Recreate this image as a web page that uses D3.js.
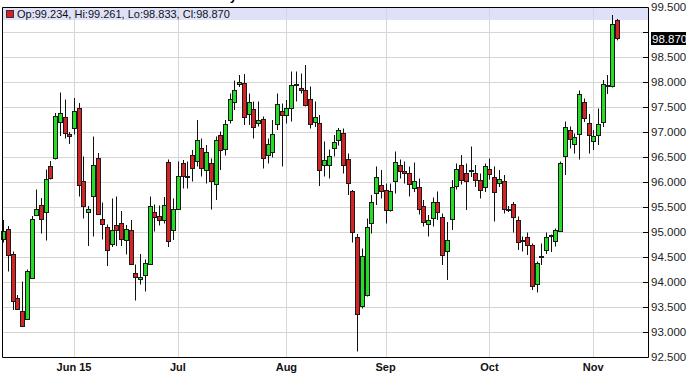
<!DOCTYPE html>
<html>
<head>
<meta charset="utf-8">
<script src="https://cdn.jsdelivr.net/npm/d3@7"></script>
<style>
  body { margin: 0; background: #fff; }
  svg { display: block; font-family: "Liberation Sans", Arial, sans-serif; }
</style>
</head>
<body>
<script>
// daily candles, weekdays from 11 May 2015 to 9 Nov 2015
var startDate = new Date(2015, 4, 11);
var endDate = new Date(2015, 10, 10);

var opens = [94.85,95.07,94.56,93.69,93.42,93.27,94.09,95.35,95.54,95.41,96.31,96.47,97.21,97.30,96.96,97.08,97.49,96.02,95.41,95.72,
  96.48,95.27,95.11,94.77,95.14,95.19,94.85,95.04,94.19,94.05,94.14,94.36,95.41,95.32,95.24,96.39,95.05,95.47,96.37,96.13,
  96.55,96.42,96.69,96.24,96.37,95.97,96.93,96.65,97.23,97.61,97.96,97.99,97.34,97.47,97.17,97.27,96.55,96.61,97.17,97.42,
  97.34,97.47,97.95,97.87,97.84,97.65,97.20,97.19,96.35,96.34,96.67,96.84,96.99,96.45,95.81,94.89,93.52,93.73,95.17,95.77,
  95.93,95.85,95.44,96.01,96.35,96.22,96.19,95.87,95.89,95.52,95.15,95.29,95.61,95.29,94.62,95.25,95.92,96.35,96.17,96.24,
  96.17,96.05,95.89,96.27,96.11,95.99,96.01,95.47,95.57,95.25,94.85,94.91,94.75,93.96,94.52,94.65,94.92,94.82,95.01,96.53,
  97.03,96.77,96.97,97.59,97.17,96.82,96.94,97.19,97.91,97.92,99.234];
var highs = [95.24,95.12,94.61,93.74,94.01,94.25,95.32,95.85,95.68,96.25,96.42,97.38,97.79,97.65,97.00,97.68,97.58,96.51,95.52,96.91,
  96.58,95.59,95.15,95.67,95.71,95.42,95.14,95.24,94.35,94.56,94.45,95.71,95.55,95.53,95.70,96.45,95.67,96.41,96.44,96.41,
  96.64,97.24,96.87,96.74,96.47,96.91,97.01,97.24,97.77,98.03,98.14,98.16,97.77,97.61,97.61,97.31,96.87,97.24,97.77,97.57,
  97.64,98.21,98.21,98.17,98.34,97.91,97.61,97.34,96.81,96.65,96.94,97.08,97.07,96.57,95.84,94.96,94.67,95.27,95.74,96.31,
  96.24,95.97,95.97,96.61,96.45,96.41,96.31,96.39,96.07,95.64,95.34,95.69,95.81,95.37,95.20,96.04,96.37,96.54,96.37,96.71,
  96.34,96.17,96.37,96.47,96.31,96.24,96.14,95.52,95.60,95.31,94.91,94.99,94.77,94.41,94.77,94.99,94.95,95.07,96.41,97.21,
  97.11,96.97,97.83,97.67,97.36,97.04,97.47,98.04,98.14,99.34,99.261];
var lows = [94.79,94.21,93.44,93.44,93.10,93.24,94.07,95.33,94.97,94.83,96.05,96.45,96.92,96.87,96.76,96.95,95.71,95.27,94.72,94.91,
  95.35,94.85,94.32,94.70,94.72,94.72,94.55,94.34,93.63,93.95,93.81,94.35,95.01,95.13,95.17,94.70,94.84,95.45,95.87,95.87,
  96.01,96.31,96.11,95.97,95.45,95.64,96.24,96.53,97.17,97.44,97.90,97.14,97.14,96.87,97.11,96.27,96.37,96.49,97.04,96.31,
  97.17,97.21,97.61,97.77,97.51,97.07,97.10,95.92,96.11,96.07,96.51,96.73,96.17,95.74,94.79,92.61,93.47,93.71,94.97,95.54,
  95.67,95.17,95.41,95.77,96.07,95.97,95.71,95.80,95.35,95.11,94.91,95.11,95.24,94.34,94.04,95.04,95.85,95.95,95.44,96.10,
  95.90,95.67,95.80,96.05,95.21,95.90,95.37,95.40,94.99,94.64,94.61,94.54,93.84,93.79,94.34,94.56,94.60,94.71,95.00,96.14,
  96.67,96.57,96.45,97.20,96.57,96.64,96.74,97.10,97.76,97.89,98.833];
var closes = [95.01,94.54,93.63,93.47,93.12,94.22,95.26,95.47,95.26,96.07,96.07,97.31,97.38,96.99,96.91,97.42,95.95,95.52,95.47,96.34,
  95.36,95.17,94.65,95.04,95.04,94.88,95.06,94.36,94.11,94.10,94.37,95.51,95.32,95.23,95.54,94.82,95.47,96.12,96.12,96.11,
  96.29,96.85,96.29,96.59,96.01,96.85,96.64,97.15,97.65,97.85,98.00,97.31,97.59,97.11,97.24,96.49,96.77,96.97,97.56,97.34,
  97.49,97.94,97.97,97.83,97.55,97.15,97.29,96.25,96.44,96.51,96.79,97.04,96.35,95.97,94.99,93.34,94.52,95.09,95.59,96.09,
  95.81,95.45,95.81,96.39,96.23,96.18,95.97,96.01,95.45,95.19,95.24,95.61,95.41,94.53,94.85,95.89,96.27,96.05,96.01,96.23,
  96.03,95.85,96.32,96.17,95.81,96.07,95.45,95.45,95.31,94.82,94.84,94.75,93.94,94.37,94.52,94.91,94.93,95.03,96.37,97.11,
  96.85,96.91,97.77,97.27,96.94,96.92,97.16,97.95,97.93,99.15,98.870];

var monthLabels = ["Jun 15", "Jul", "Aug", "Sep", "Oct", "Nov"];
var monthStarts = [new Date(2015, 5, 1), new Date(2015, 6, 1), new Date(2015, 7, 1),
                   new Date(2015, 8, 1), new Date(2015, 9, 1), new Date(2015, 10, 1)];
var yTicks = [92.5, 93, 93.5, 94, 94.5, 95, 95.5, 96, 96.5, 97, 97.5, 98, 98.5, 99, 99.5];

var width = 687, height = 380;
var plotLeft = 2, plotRight = 648, plotTop = 7, plotBottom = 357;

var days = d3.timeDay.range(startDate, endDate).filter(function(d) {
    return d.getDay() != 0 && d.getDay() != 6;
});
var candles = days.map(function(d, i) {
    return {date: d, o: opens[i], h: highs[i], l: lows[i], c: closes[i]};
});

var x = d3.scaleLinear().domain([-0.25, 136.6]).range([plotLeft, plotRight]);
var y = d3.scaleLinear().domain([92.5, 99.5]).range([plotBottom, plotTop]);

// first trading day of each month
var monthIdx = monthStarts.map(function(m) {
    return d3.bisector(function(d) { return d; }).left(days, m);
});

var svg = d3.select("body").append("svg")
    .attr("width", width)
    .attr("height", height);

// title, mostly cut off at the top edge in the original
svg.append("text")
    .attr("x", 237)
    .attr("y", 0)
    .attr("text-anchor", "end")
    .style("font-size", "13px")
    .style("font-weight", "bold")
    .text("US Dollar Index Daily");

// legend band
svg.append("rect")
    .attr("x", plotLeft).attr("y", plotTop)
    .attr("width", plotRight - plotLeft).attr("height", 13)
    .attr("fill", "#dfe1f8");

// grid
svg.append("g").selectAll("line")
    .data(yTicks.filter(function(t) { return t > 92.5 && t < 99.5; }))
    .join("line")
    .attr("x1", plotLeft).attr("x2", plotRight)
    .attr("y1", function(d) { return Math.round(y(d)) + 0.5; })
    .attr("y2", function(d) { return Math.round(y(d)) + 0.5; })
    .attr("stroke", "#d6d6d6");

svg.append("g").selectAll("line")
    .data(monthIdx)
    .join("line")
    .attr("x1", function(d) { return Math.round(x(d)) + 0.5; })
    .attr("x2", function(d) { return Math.round(x(d)) + 0.5; })
    .attr("y1", plotTop).attr("y2", plotBottom)
    .attr("stroke", "#d6d6d6");

// candles
var g = svg.append("g");
g.selectAll("line")
    .data(candles)
    .join("line")
    .attr("x1", function(d, i) { return Math.round(x(i)) + 0.5; })
    .attr("x2", function(d, i) { return Math.round(x(i)) + 0.5; })
    .attr("y1", function(d) { return y(d.h); })
    .attr("y2", function(d) { return y(d.l); })
    .attr("stroke", "#111");

g.selectAll("rect")
    .data(candles)
    .join("rect")
    .attr("x", function(d, i) { return Math.round(x(i)) - 1.5; })
    .attr("y", function(d) { return Math.round(y(Math.max(d.o, d.c))) + 0.5; })
    .attr("width", 4)
    .attr("height", function(d) { return Math.max(1, Math.round(y(Math.min(d.o, d.c)) - y(Math.max(d.o, d.c)))); })
    .attr("fill", function(d) { return d.c >= d.o ? "#26dc26" : "#d42424"; })
    .attr("stroke", "#1a1a1a");

// frame
svg.append("path")
    .attr("d", "M" + (plotLeft + 0.5) + "," + (plotTop + 0.5) + "V" + (plotBottom + 0.5) +
        "H" + (plotRight + 0.5) + "V" + (plotTop + 0.5) + "Z")
    .attr("fill", "none")
    .attr("stroke", "#000");

// legend
svg.append("rect")
    .attr("x", 6.5).attr("y", 10.5)
    .attr("width", 7).attr("height", 7)
    .attr("fill", "#dd1c1c")
    .attr("stroke", "#333");

var last = candles[candles.length - 1];
var f3 = d3.format(".3f");
svg.append("text")
    .attr("x", 17)
    .attr("y", 18)
    .style("font-size", "11px")
    .attr("fill", "#111")
    .text("Op:" + f3(last.o) + ", Hi:" + f3(last.h) + ", Lo:" + f3(last.l) + ", Cl:" + f3(last.c));

// y axis on the right
var yAxis = svg.append("g");
yAxis.selectAll("line")
    .data(yTicks)
    .join("line")
    .attr("x1", plotRight - 5).attr("x2", plotRight)
    .attr("y1", function(d) { return Math.round(y(d)) + 0.5; })
    .attr("y2", function(d) { return Math.round(y(d)) + 0.5; })
    .attr("stroke", "#000");

var lastY = y(last.c);
yAxis.selectAll("text")
    .data(yTicks.filter(function(t) { return Math.abs(y(t) - lastY) > 9; }))
    .join("text")
    .attr("x", plotRight + 3)
    .attr("y", function(d) { return y(d); })
    .attr("dy", "0.36em")
    .style("font-size", "11.5px")
    .attr("fill", "#222")
    .text(f3);

svg.append("rect")
    .attr("x", plotRight + 3).attr("y", Math.round(lastY) - 6)
    .attr("width", 35).attr("height", 13)
    .attr("fill", "#000");
svg.append("text")
    .attr("x", plotRight + 4)
    .attr("y", lastY)
    .attr("dy", "0.36em")
    .style("font-size", "11.5px")
    .attr("fill", "#fff")
    .text(f3(last.c));

// month labels
svg.append("g").selectAll("text")
    .data(monthIdx)
    .join("text")
    .attr("x", function(d) { return x(d); })
    .attr("y", 371)
    .attr("text-anchor", "middle")
    .style("font-size", "11px")
    .style("font-weight", "bold")
    .attr("fill", "#111")
    .text(function(d, i) { return monthLabels[i]; });
</script>
</body>
</html>
